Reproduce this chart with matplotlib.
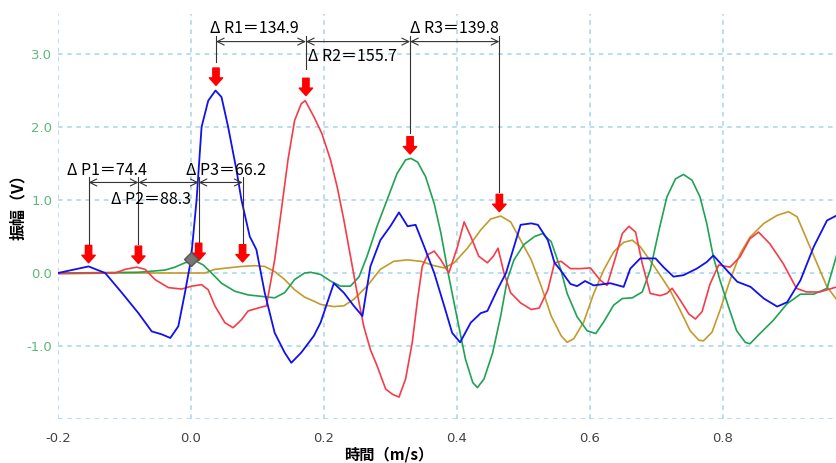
import numpy as np
import matplotlib
matplotlib.use("Agg")
import matplotlib.pyplot as plt

plt.rcParams['font.family'] = ['Noto Sans CJK JP', 'DejaVu Sans']

# --- waveforms (time, amplitude) ---
blue_t = [-0.2, -0.154, -0.129, -0.104, -0.079, -0.059, -0.044, -0.031, -0.019, -0.009, 0.0, 0.0085,
          0.016, 0.026, 0.037, 0.046, 0.056, 0.0685, 0.076, 0.0885, 0.0985, 0.111, 0.126, 0.141, 0.151,
          0.166, 0.185, 0.195, 0.215, 0.23, 0.245, 0.258, 0.27, 0.285, 0.30, 0.313, 0.326, 0.338, 0.351,
          0.366, 0.381, 0.393, 0.405, 0.421, 0.436, 0.446, 0.461, 0.474, 0.486, 0.496, 0.512, 0.522,
          0.537, 0.547, 0.556, 0.571, 0.581, 0.593, 0.606, 0.631, 0.651, 0.661, 0.676, 0.699, 0.711,
          0.726, 0.741, 0.761, 0.776, 0.786, 0.802, 0.822, 0.842, 0.862, 0.882, 0.897, 0.917, 0.937,
          0.957, 0.972]
blue_v = [0.0, 0.09, 0.0, -0.27, -0.55, -0.80, -0.84, -0.89, -0.73, -0.27, 0.18, 1.0,
          2.0, 2.36, 2.5, 2.41, 2.0, 1.41, 1.0, 0.5, 0.32, -0.27, -0.82, -1.09, -1.23,
          -1.09, -0.86, -0.68, -0.14, -0.27, -0.45, -0.59, 0.09, 0.45, 0.64, 0.83, 0.64, 0.66, 0.36,
          0.0, -0.45, -0.82, -0.95, -0.68, -0.55, -0.52, -0.23, 0.0, 0.36, 0.66, 0.68, 0.66,
          0.45, 0.14, 0.04, -0.15, -0.18, -0.11, -0.17, -0.14, -0.19, 0.06, 0.20, 0.20, 0.08,
          -0.05, -0.03, 0.06, 0.15, 0.24, 0.08, -0.12, -0.19, -0.35, -0.46, -0.40, -0.10, 0.36,
          0.72, 0.79]

red_t = [-0.2, -0.114, -0.099, -0.0815, -0.069, -0.054, -0.034, -0.014, 0.001, 0.016, 0.026, 0.036,
         0.051, 0.0635, 0.076, 0.086, 0.101, 0.1135, 0.126, 0.136, 0.146, 0.156, 0.166, 0.172,
         0.185, 0.197, 0.21, 0.22, 0.23, 0.24, 0.25, 0.26, 0.27, 0.28, 0.293, 0.303, 0.313, 0.323,
         0.333, 0.341, 0.348, 0.356, 0.366, 0.376, 0.388, 0.401, 0.411, 0.421, 0.433, 0.446, 0.455,
         0.462, 0.471, 0.481, 0.496, 0.512, 0.524, 0.537, 0.547, 0.557, 0.571, 0.586, 0.601, 0.616,
         0.626, 0.639, 0.649, 0.659, 0.669, 0.679, 0.691, 0.706, 0.716, 0.724, 0.736, 0.749, 0.759,
         0.769, 0.781, 0.794, 0.811, 0.826, 0.841, 0.854, 0.871, 0.891, 0.911, 0.926, 0.946, 0.972]
red_v = [-0.01, 0.0, 0.05, 0.08, 0.05, -0.09, -0.2, -0.22, -0.18, -0.16, -0.23, -0.45,
         -0.68, -0.75, -0.64, -0.52, -0.48, -0.45, 0.18, 0.86, 1.55, 2.09, 2.32, 2.36,
         2.14, 1.91, 1.55, 1.18, 0.73, 0.23, -0.27, -0.73, -1.05, -1.27, -1.59, -1.66, -1.70, -1.45,
         -0.95, -0.36, 0.09, 0.25, 0.30, 0.18, 0.0, 0.36, 0.70, 0.5, 0.23, 0.14, 0.23,
         0.34, 0.0, -0.27, -0.41, -0.5, -0.48, -0.23, 0.14, 0.16, 0.06, 0.06, 0.07, -0.10,
         -0.17, 0.22, 0.54, 0.64, 0.56, 0.13, -0.28, -0.31, -0.28, -0.21, -0.37, -0.56, -0.63,
         -0.53, -0.15, 0.11, 0.08, 0.22, 0.47, 0.56, 0.40, 0.13, -0.21, -0.26, -0.26, -0.19]

green_t = [-0.2, -0.079, -0.039, -0.024, -0.009, 0.006, 0.0185, 0.031, 0.046, 0.066, 0.086, 0.106,
           0.126, 0.141, 0.156, 0.171, 0.18, 0.195, 0.21, 0.225, 0.24, 0.253, 0.265, 0.28, 0.295,
           0.31, 0.323, 0.331, 0.341, 0.353, 0.366, 0.376, 0.388, 0.401, 0.413, 0.424, 0.431, 0.441,
           0.454, 0.466, 0.476, 0.486, 0.501, 0.517, 0.529, 0.542, 0.556, 0.566, 0.581, 0.596, 0.609,
           0.621, 0.636, 0.649, 0.664, 0.679, 0.691, 0.704, 0.716, 0.729, 0.741, 0.754, 0.766, 0.776,
           0.786, 0.796, 0.809, 0.821, 0.834, 0.841, 0.856, 0.876, 0.897, 0.917, 0.937, 0.957, 0.972]
green_v = [0.0, 0.01, 0.04, 0.08, 0.14, 0.17, 0.11, 0.0, -0.14, -0.25, -0.30, -0.32,
           -0.34, -0.27, -0.09, 0.0, 0.01, -0.02, -0.11, -0.18, -0.18, -0.05, 0.23, 0.64, 1.0,
           1.36, 1.55, 1.57, 1.52, 1.32, 0.95, 0.55, -0.05, -0.64, -1.18, -1.5, -1.57, -1.45,
           -1.09, -0.59, -0.09, 0.18, 0.39, 0.5, 0.54, 0.43, 0.06, -0.28, -0.60, -0.79, -0.83,
           -0.67, -0.44, -0.35, -0.34, -0.26, 0.04, 0.58, 1.04, 1.29, 1.35, 1.27, 1.04, 0.68,
           0.22, -0.10, -0.47, -0.79, -0.95, -0.97, -0.83, -0.65, -0.42, -0.29, -0.29, -0.21, 0.26]

gold_t = [-0.2, 0.021, 0.036, 0.056, 0.076, 0.096, 0.111, 0.126, 0.141, 0.156, 0.171, 0.186,
          0.195, 0.215, 0.23, 0.245, 0.265, 0.285, 0.305, 0.326, 0.346, 0.366, 0.381, 0.396, 0.416,
          0.436, 0.451, 0.466, 0.481, 0.496, 0.512, 0.527, 0.542, 0.557, 0.566, 0.576, 0.591, 0.606,
          0.621, 0.636, 0.651, 0.664, 0.676, 0.691, 0.706, 0.721, 0.736, 0.751, 0.764, 0.771, 0.784,
          0.796, 0.811, 0.826, 0.841, 0.862, 0.882, 0.899, 0.912, 0.927, 0.942, 0.957, 0.972]
gold_v = [0.0, 0.0, 0.05, 0.07, 0.09, 0.10, 0.09, 0.02, -0.09, -0.23, -0.33, -0.39,
          -0.43, -0.46, -0.45, -0.36, -0.18, 0.05, 0.16, 0.18, 0.16, 0.10, 0.07, 0.14, 0.34,
          0.59, 0.74, 0.78, 0.70, 0.45, 0.18, -0.18, -0.59, -0.86, -0.95, -0.90, -0.67, -0.28,
          0.04, 0.29, 0.42, 0.45, 0.36, 0.17, -0.03, -0.24, -0.51, -0.79, -0.92, -0.93, -0.81,
          -0.51, -0.10, 0.26, 0.49, 0.68, 0.79, 0.84, 0.77, 0.45, 0.13, -0.19, -0.37]

# --- peak markers and intervals ---
p_x = [-0.154, -0.079, 0.0116, 0.0777]
p_tip = [0.14, 0.13, 0.17, 0.15]
p_labels = ['Δ P1＝74.4', 'Δ P2＝88.3', 'Δ P3＝66.2']
r_x = [0.0377, 0.173, 0.3297, 0.464]
r_tip = [2.57, 2.43, 1.63, 0.84]
r_line_bottom = [2.89, 2.79, 1.92, 1.11]
r_labels = ['Δ R1＝134.9', 'Δ R2＝155.7', 'Δ R3＝139.8']
start_pt = (0.0, 0.19)

xticks = [-0.2, 0.0, 0.2, 0.4, 0.6, 0.8]
yticks = [-2.0, -1.0, 0.0, 1.0, 2.0, 3.0]
ytick_labels = ['', '-1.0', '0.0', '1.0', '2.0', '3.0']

fig = plt.figure(figsize=(8.37, 4.63), dpi=100)
ax = fig.add_axes([58 / 837, 1 - 419 / 463, 1 - 58 / 837, (419 - 14) / 463])

ax.plot(gold_t, gold_v, color='#c49a2c', lw=1.2)
ax.plot(green_t, green_v, color='#1fa352', lw=1.2)
ax.plot(red_t, red_v, color='#f53c48', lw=1.2)
ax.plot(blue_t, blue_v, color='#1010f0', lw=1.3)

ax.set_xlim(-0.2, 0.972)
ax.set_ylim(-2.0, 3.548)
ax.set_xticks(xticks)
ax.set_xticklabels(['%.1f' % v for v in xticks])
ax.set_yticks(yticks)
ax.set_yticklabels(ytick_labels)
ax.tick_params(axis='both', length=0, labelsize=9.5)
ax.tick_params(axis='x', pad=9, labelcolor='#444444')
ax.tick_params(axis='y', pad=4, labelcolor='#5cb87a')
for lab in ax.get_xticklabels() + ax.get_yticklabels():
    lab.set_family('DejaVu Sans')
for s in ax.spines.values():
    s.set_visible(False)
ax.grid(True, color='#a6d4ea', ls=(0, (3, 3)), lw=1.1)
ax.set_axisbelow(True)

# red down arrows
def red_arrow(x, y):
    ax.annotate('', xy=(x, y), xytext=(0, 12.5), textcoords='offset points',
                arrowprops=dict(arrowstyle='simple,head_length=0.45,head_width=0.8,tail_width=0.38',
                                color='red', shrinkA=0, shrinkB=0, mutation_scale=12))

for x, y in zip(p_x, p_tip):
    red_arrow(x, y)
for x, y in zip(r_x, r_tip):
    red_arrow(x, y)

lc = '#333333'
dim_style = dict(arrowstyle='<->,head_length=0.5,head_width=0.25', color=lc, lw=0.8,
                 shrinkA=0, shrinkB=0, mutation_scale=10)

# P intervals
p_dim = 1.24
for x in p_x:
    ax.plot([x, x], [1.32, 0.40], color=lc, lw=0.8)
for i in range(3):
    ax.annotate('', xy=(p_x[i], p_dim), xytext=(p_x[i + 1], p_dim), arrowprops=dim_style)
ax.text(-0.186, 1.41, p_labels[0], fontsize=11.5, va='center', ha='left')
ax.text(-0.121, 1.01, p_labels[1], fontsize=11.5, va='center', ha='left')
ax.text(-0.008, 1.41, p_labels[2], fontsize=11.5, va='center', ha='left')

# R intervals
r_dim = 3.17
for x, yb in zip(r_x, r_line_bottom):
    ax.plot([x, x], [3.24, yb], color=lc, lw=0.8)
for i in range(3):
    ax.annotate('', xy=(r_x[i], r_dim), xytext=(r_x[i + 1], r_dim), arrowprops=dim_style)
ax.text(0.029, 3.35, r_labels[0], fontsize=11.5, va='center', ha='left')
ax.text(0.176, 2.96, r_labels[1], fontsize=11.5, va='center', ha='left')
ax.text(0.33, 3.35, r_labels[2], fontsize=11.5, va='center', ha='left')

ax.plot([start_pt[0]], [start_pt[1]], marker='D', ms=7, color='#777777', mec='#555555', zorder=5)

fig.text(18 / 837, 1 - 203 / 463, '振幅（V）', rotation=90, fontsize=11.5, fontweight='bold',
         ha='center', va='center')
fig.text(389 / 837, 1 - 455 / 463, '時間（m/s）', fontsize=11, fontweight='bold',
         ha='center', va='center')

fig.savefig('out.png', dpi=100)
